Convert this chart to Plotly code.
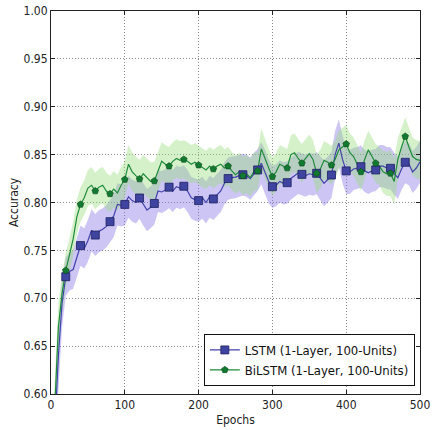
import plotly.graph_objects as go

epochs = list(range(0, 501, 5))

lstm_mean = [0.50, 0.56, 0.64, 0.695, 0.7225, 0.728, 0.730, 0.742, 0.755, 0.752,
             0.760, 0.771, 0.766, 0.770, 0.772, 0.775, 0.780, 0.786, 0.798, 0.797,
             0.798, 0.806, 0.802, 0.800, 0.8047, 0.798, 0.792, 0.795, 0.799, 0.812,
             0.811, 0.813, 0.816, 0.812, 0.8165, 0.815, 0.817, 0.812, 0.805, 0.803,
             0.802, 0.805, 0.800, 0.806, 0.8037, 0.808, 0.812, 0.820, 0.825, 0.826,
             0.8265, 0.828, 0.829, 0.828, 0.825, 0.830, 0.834, 0.841, 0.832, 0.822,
             0.8165, 0.818, 0.822, 0.820, 0.8207, 0.825, 0.828, 0.831, 0.8294, 0.828,
             0.830, 0.829, 0.8305, 0.825, 0.820, 0.824, 0.8287, 0.850, 0.862, 0.845,
             0.833, 0.832, 0.835, 0.836, 0.8374, 0.833, 0.831, 0.833, 0.834, 0.838,
             0.838, 0.836, 0.8357, 0.830, 0.826, 0.835, 0.842, 0.840, 0.832, 0.836,
             0.8425]

lstm_std = [0.03, 0.03, 0.03, 0.025, 0.02, 0.02, 0.02, 0.021, 0.021, 0.021,
            0.022, 0.022, 0.022, 0.022, 0.022, 0.022, 0.022, 0.022, 0.022, 0.022,
            0.022, 0.022, 0.022, 0.022, 0.022, 0.022, 0.022, 0.022, 0.022, 0.022,
            0.022, 0.022, 0.022, 0.022, 0.022, 0.022, 0.022, 0.022, 0.022, 0.022,
            0.022, 0.022, 0.022, 0.022, 0.022, 0.022, 0.022, 0.022, 0.022, 0.022,
            0.022, 0.022, 0.022, 0.022, 0.022, 0.022, 0.022, 0.022, 0.023, 0.023,
            0.022, 0.022, 0.022, 0.022, 0.022, 0.022, 0.022, 0.022, 0.022, 0.022,
            0.022, 0.022, 0.022, 0.023, 0.024, 0.024, 0.024, 0.025, 0.025, 0.025,
            0.024, 0.023, 0.022, 0.022, 0.022, 0.022, 0.022, 0.022, 0.022, 0.022,
            0.022, 0.022, 0.022, 0.022, 0.022, 0.022, 0.022, 0.022, 0.022, 0.022,
            0.022]

bilstm_mean = [0.50, 0.58, 0.67, 0.705, 0.729, 0.745, 0.762, 0.785, 0.798, 0.805,
               0.815, 0.818, 0.812, 0.816, 0.818, 0.812, 0.809, 0.814, 0.810, 0.818,
               0.824, 0.840, 0.832, 0.828, 0.8245, 0.830, 0.826, 0.822, 0.8225, 0.832,
               0.843, 0.840, 0.838, 0.843, 0.846, 0.844, 0.845, 0.843, 0.840, 0.842,
               0.839, 0.836, 0.834, 0.838, 0.835, 0.838, 0.840, 0.836, 0.838, 0.833,
               0.829, 0.832, 0.828, 0.830, 0.826, 0.832, 0.833, 0.856, 0.845, 0.836,
               0.827, 0.832, 0.840, 0.838, 0.836, 0.850, 0.852, 0.846, 0.841, 0.846,
               0.851, 0.845, 0.8305, 0.835, 0.844, 0.842, 0.839, 0.845, 0.855, 0.858,
               0.861, 0.852, 0.848, 0.840, 0.832, 0.845, 0.855, 0.848, 0.841, 0.838,
               0.832, 0.830, 0.8305, 0.822, 0.845, 0.858, 0.869, 0.858, 0.848, 0.845,
               0.844]

bilstm_std = [0.03, 0.03, 0.025, 0.02, 0.018, 0.018, 0.018, 0.018, 0.018, 0.018,
              0.019, 0.019, 0.019, 0.019, 0.019, 0.019, 0.019, 0.019, 0.019, 0.019,
              0.019, 0.02, 0.02, 0.02, 0.02, 0.02, 0.02, 0.02, 0.02, 0.02,
              0.02, 0.02, 0.02, 0.02, 0.02, 0.02, 0.02, 0.02, 0.02, 0.02,
              0.02, 0.02, 0.02, 0.02, 0.02, 0.02, 0.02, 0.02, 0.02, 0.02,
              0.02, 0.02, 0.02, 0.02, 0.02, 0.02, 0.02, 0.021, 0.021, 0.02,
              0.02, 0.02, 0.02, 0.02, 0.02, 0.02, 0.02, 0.02, 0.02, 0.02,
              0.02, 0.02, 0.02, 0.02, 0.02, 0.02, 0.02, 0.02, 0.02, 0.02,
              0.02, 0.02, 0.02, 0.02, 0.02, 0.02, 0.02, 0.02, 0.02, 0.02,
              0.022, 0.023, 0.024, 0.024, 0.022, 0.02, 0.02, 0.02, 0.02, 0.02,
              0.02]

marker_epochs = list(range(20, 481, 20))
x_ticks = [0, 100, 200, 300, 400, 500]
y_ticks = [0.60, 0.65, 0.70, 0.75, 0.80, 0.85, 0.90, 0.95, 1.00]

names = ["LSTM (1-Layer, 100-Units)", "BiLSTM (1-Layer, 100-Units)"]

FONT = "DejaVu Sans Condensed, DejaVu Sans, sans-serif"
BLUE_LINE = "#4242aa"
BLUE_MK = "#3f44a0"
BLUE_EDGE = "#1c1f5e"
BLUE_FILL = "rgba(135,118,230,0.42)"
GREEN_LINE = "#1f8a3a"
GREEN_MK = "#127a30"
GREEN_EDGE = "#0a4a1a"
GREEN_FILL = "rgba(150,220,120,0.40)"

fig = go.Figure()

def band(mean, std, color):
    up = [m + s for m, s in zip(mean, std)]
    lo = [m - s for m, s in zip(mean, std)]
    fig.add_trace(go.Scatter(x=epochs + epochs[::-1], y=up + lo[::-1],
                             fill="toself", fillcolor=color, mode="lines",
                             line=dict(width=0), hoverinfo="skip", showlegend=False))

band(lstm_mean, lstm_std, BLUE_FILL)
band(bilstm_mean, bilstm_std, GREEN_FILL)

fig.add_trace(go.Scatter(x=epochs, y=lstm_mean, mode="lines",
                         line=dict(color=BLUE_LINE, width=1.2), showlegend=False))
fig.add_trace(go.Scatter(x=epochs, y=bilstm_mean, mode="lines",
                         line=dict(color=GREEN_LINE, width=1.2), showlegend=False))

def pick(mean):
    return [mean[epochs.index(e)] for e in marker_epochs]

fig.add_trace(go.Scatter(x=marker_epochs, y=pick(lstm_mean), mode="markers",
                         marker=dict(symbol="square", size=8, color=BLUE_MK,
                                     line=dict(color=BLUE_EDGE, width=0.8)),
                         showlegend=False))
fig.add_trace(go.Scatter(x=marker_epochs, y=pick(bilstm_mean), mode="markers",
                         marker=dict(symbol="pentagon", size=7, color=GREEN_MK,
                                     line=dict(color=GREEN_EDGE, width=0.6)),
                         showlegend=False))

# legend entries
fig.add_trace(go.Scatter(x=[None], y=[None], mode="lines+markers", name=names[0],
                         line=dict(color=BLUE_LINE, width=1.2),
                         marker=dict(symbol="square", size=8, color=BLUE_MK,
                                     line=dict(color=BLUE_EDGE, width=0.8))))
fig.add_trace(go.Scatter(x=[None], y=[None], mode="lines+markers", name=names[1],
                         line=dict(color=GREEN_LINE, width=1.2),
                         marker=dict(symbol="pentagon", size=7, color=GREEN_MK,
                                     line=dict(color=GREEN_EDGE, width=0.6))))

axis_common = dict(showline=True, linecolor="#222222", linewidth=1, mirror="ticks",
                   ticks="inside", ticklen=4, tickcolor="#222222",
                   showgrid=True, gridcolor="#8a8a8a", griddash="1px,2px", gridwidth=1,
                   zeroline=False, automargin=False,
                   tickfont=dict(family=FONT, size=12, color="#222222"))

fig.update_xaxes(range=[0, 500], tickvals=x_ticks, ticktext=[str(v) for v in x_ticks],
                 title=dict(text="Epochs", font=dict(family=FONT, size=12, color="#222222"),
                            standoff=4),
                 **axis_common)
fig.update_yaxes(range=[0.60, 1.00], tickvals=y_ticks, ticktext=[f"{v:.2f}" for v in y_ticks],
                 title=dict(text="Accuracy", font=dict(family=FONT, size=12, color="#222222"),
                            standoff=2),
                 **axis_common)

fig.update_layout(
    width=433, height=430,
    margin=dict(l=51, r=13, t=11, b=36),
    paper_bgcolor="white", plot_bgcolor="white",
    font=dict(family=FONT, size=12, color="#222222"),
    legend=dict(x=0.986, y=0.021, xanchor="right", yanchor="bottom",
                bgcolor="white", bordercolor="#111111", borderwidth=1,
                font=dict(family=FONT, size=13, color="#111111"),
                tracegroupgap=2),
    showlegend=True,
)

fig.write_html("out.html", config={"displayModeBar": False},
               post_script="document.body.style.margin='0';document.body.style.padding='0';")
